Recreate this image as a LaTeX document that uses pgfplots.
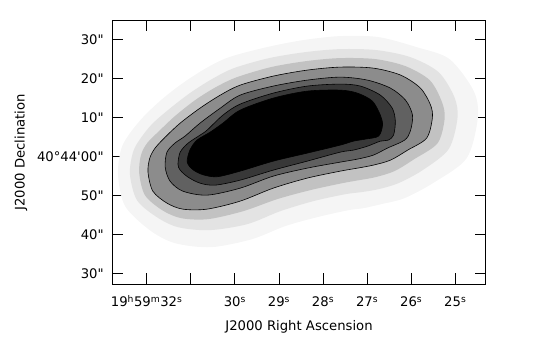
\documentclass[border=0pt]{standalone}
\usepackage{fontspec}
\newfontfamily\pgfont{DejaVu Sans}
\usepackage{pgfplots}
\pgfplotsset{compat=1.18}

\begin{document}
\pgfont\fontsize{13.2}{16}\selectfont
\begin{tikzpicture}
\useasboundingbox (-112.3pt,-71pt) rectangle (424.7pt,284pt);
\begin{axis}[
    at={(0,0)}, anchor=south west,
    scale only axis, width=373.4pt, height=263.7pt,
    x dir=reverse,
    xmin=24.31, xmax=32.78, ymin=-32.7, ymax=34.9,
    axis line style={line width=0.8pt},
    tick align=inside, major tick length=11pt,
    every tick/.style={black, line width=0.8pt},
    xtick pos=both, ytick pos=both,
    xticklabel pos=lower, yticklabel pos=left,
    xtick={25,26,27,28,29,30,31,32},
    xticklabels={25\textsuperscript{s},26\textsuperscript{s},27\textsuperscript{s},28\textsuperscript{s},29\textsuperscript{s},30\textsuperscript{s},{},19\textsuperscript{h}59\textsuperscript{m}32\textsuperscript{s}},
    ytick={-30,-20,-10,0,10,20,30},
    yticklabels={30",40",50",40°44'00",10",20",30"},
    xticklabel style={anchor=base, yshift=-22.5pt},
    yticklabel style={xshift=-4pt},
    xlabel={J2000 Right Ascension},
    ylabel={J2000 Declination},
    xlabel style={at={(axis description cs:0.5,-0.163)}, anchor=center},
    ylabel style={at={(axis description cs:-0.2445,0.5)}, anchor=center},
]
% faint halo round the source
\addplot[draw=none, fill=black!4, smooth cycle] coordinates {
(32.65,-4.79) (32.58,1.87) (32.38,5.97) (32.06,10.33) (31.65,14.69) (31.18,18.80)
(30.65,22.64) (30.13,25.46) (29.27,28.03) (28.45,29.82) (27.61,30.85) (26.74,30.59)
(25.88,28.03) (25.13,24.95) (24.58,16.74) (24.49,9.82) (24.74,-0.44) (25.47,-6.59)
(26.15,-10.69) (26.68,-12.23) (27.08,-13.26) (27.42,-13.77) (28.13,-15.56) (28.86,-17.87)
(29.61,-21.21) (30.54,-23.26) (31.36,-22.23) (31.93,-18.90) (32.49,-12.74)};
\addplot[draw=none, fill=black!11, smooth cycle] coordinates {
(32.38,-4.54) (32.31,1.10) (32.15,4.44) (31.88,8.28) (31.49,12.13) (31.02,16.23)
(30.52,19.82) (30.02,22.64) (29.22,25.21) (28.40,26.74) (27.61,27.51) (26.79,27.26)
(26.02,25.46) (25.38,21.62) (25.02,15.21) (24.95,9.82) (25.15,1.87) (25.74,-3.51)
(26.29,-6.85) (26.74,-8.39) (27.13,-9.15) (27.49,-9.67) (28.22,-11.46) (28.97,-14.03)
(29.72,-17.36) (30.58,-18.90) (31.29,-18.13) (31.77,-15.56) (32.22,-11.21)};
\addplot[draw=none, fill=black!24, smooth cycle] coordinates {
(32.17,-4.28) (32.13,0.33) (31.99,3.41) (31.72,6.49) (31.36,10.33) (30.90,14.44)
(30.43,17.77) (29.95,20.33) (29.18,22.90) (28.38,24.44) (27.61,25.21) (26.81,24.95)
(26.13,23.15) (25.58,19.56) (25.31,14.18) (25.24,9.82) (25.40,3.41) (25.93,-0.69)
(26.38,-3.77) (26.81,-5.31) (27.18,-6.08) (27.56,-6.85) (28.29,-8.64) (29.04,-10.95)
(29.81,-14.03) (30.61,-16.08) (31.22,-15.82) (31.65,-13.77) (32.04,-9.92)};
% contour levels
\addplot[draw=black, line width=0.6pt, fill=black!45, smooth cycle] coordinates {
(31.97,-4.03) (31.93,-0.44) (31.81,2.13) (31.58,4.95) (31.24,8.54) (30.79,12.38)
(30.33,15.72) (29.88,18.28) (29.13,20.59) (28.36,22.13) (27.61,22.90) (26.86,22.64)
(26.24,20.85) (25.79,17.51) (25.56,13.15) (25.52,9.82) (25.65,4.69) (26.08,1.62)
(26.47,-0.95) (26.86,-2.23) (27.22,-3.00) (27.61,-3.77) (28.36,-5.56) (29.13,-8.13)
(29.88,-11.46) (30.63,-13.51) (31.18,-13.51) (31.54,-11.97) (31.86,-8.90)};
\addplot[draw=black, line width=0.6pt, fill=black!62, smooth cycle] coordinates {
(31.58,-2.74) (31.54,1.10) (31.36,3.41) (31.13,5.21) (30.79,8.54) (30.33,12.38)
(29.88,15.72) (29.13,18.03) (28.36,19.56) (27.61,20.33) (26.99,19.56) (26.47,17.51)
(26.13,14.44) (25.97,10.59) (26.02,6.49) (26.15,4.18) (26.54,2.13) (26.86,0.33)
(27.22,-0.69) (27.61,-1.46) (28.36,-3.00) (29.13,-5.05) (29.88,-8.13) (30.63,-9.92)
(31.18,-8.90) (31.47,-6.33)};
\addplot[draw=black, line width=0.6pt, fill=black!78, smooth cycle] coordinates {
(31.29,-1.97) (31.24,1.10) (31.06,3.41) (30.79,5.46) (30.63,6.74) (30.27,10.59)
(29.88,13.41) (29.13,16.23) (28.36,18.03) (27.61,18.54) (27.15,18.03) (26.70,15.72)
(26.43,12.38) (26.36,9.05) (26.40,5.46) (26.52,4.18) (26.70,3.92) (26.99,2.64)
(27.31,1.62) (27.61,1.10) (28.36,-1.21) (29.13,-3.51) (29.88,-6.08) (30.45,-7.36)
(30.79,-6.85) (31.06,-5.31) (31.24,-3.51)};
\addplot[draw=black, line width=0.6pt, fill=black, smooth cycle] coordinates {
(31.08,-1.46) (31.02,1.62) (30.86,4.18) (30.56,6.23) (30.27,8.54) (29.88,11.87)
(29.13,14.95) (28.36,16.74) (27.61,17.00) (27.22,16.23) (26.88,14.18) (26.70,10.59)
(26.65,8.03) (26.74,5.21) (27.04,4.44) (27.31,3.92) (27.61,2.90) (28.36,0.85)
(29.13,-1.21) (29.88,-3.77) (30.40,-5.20) (30.72,-4.70) (30.95,-3.40)};
\end{axis}
\end{tikzpicture}
\end{document}
